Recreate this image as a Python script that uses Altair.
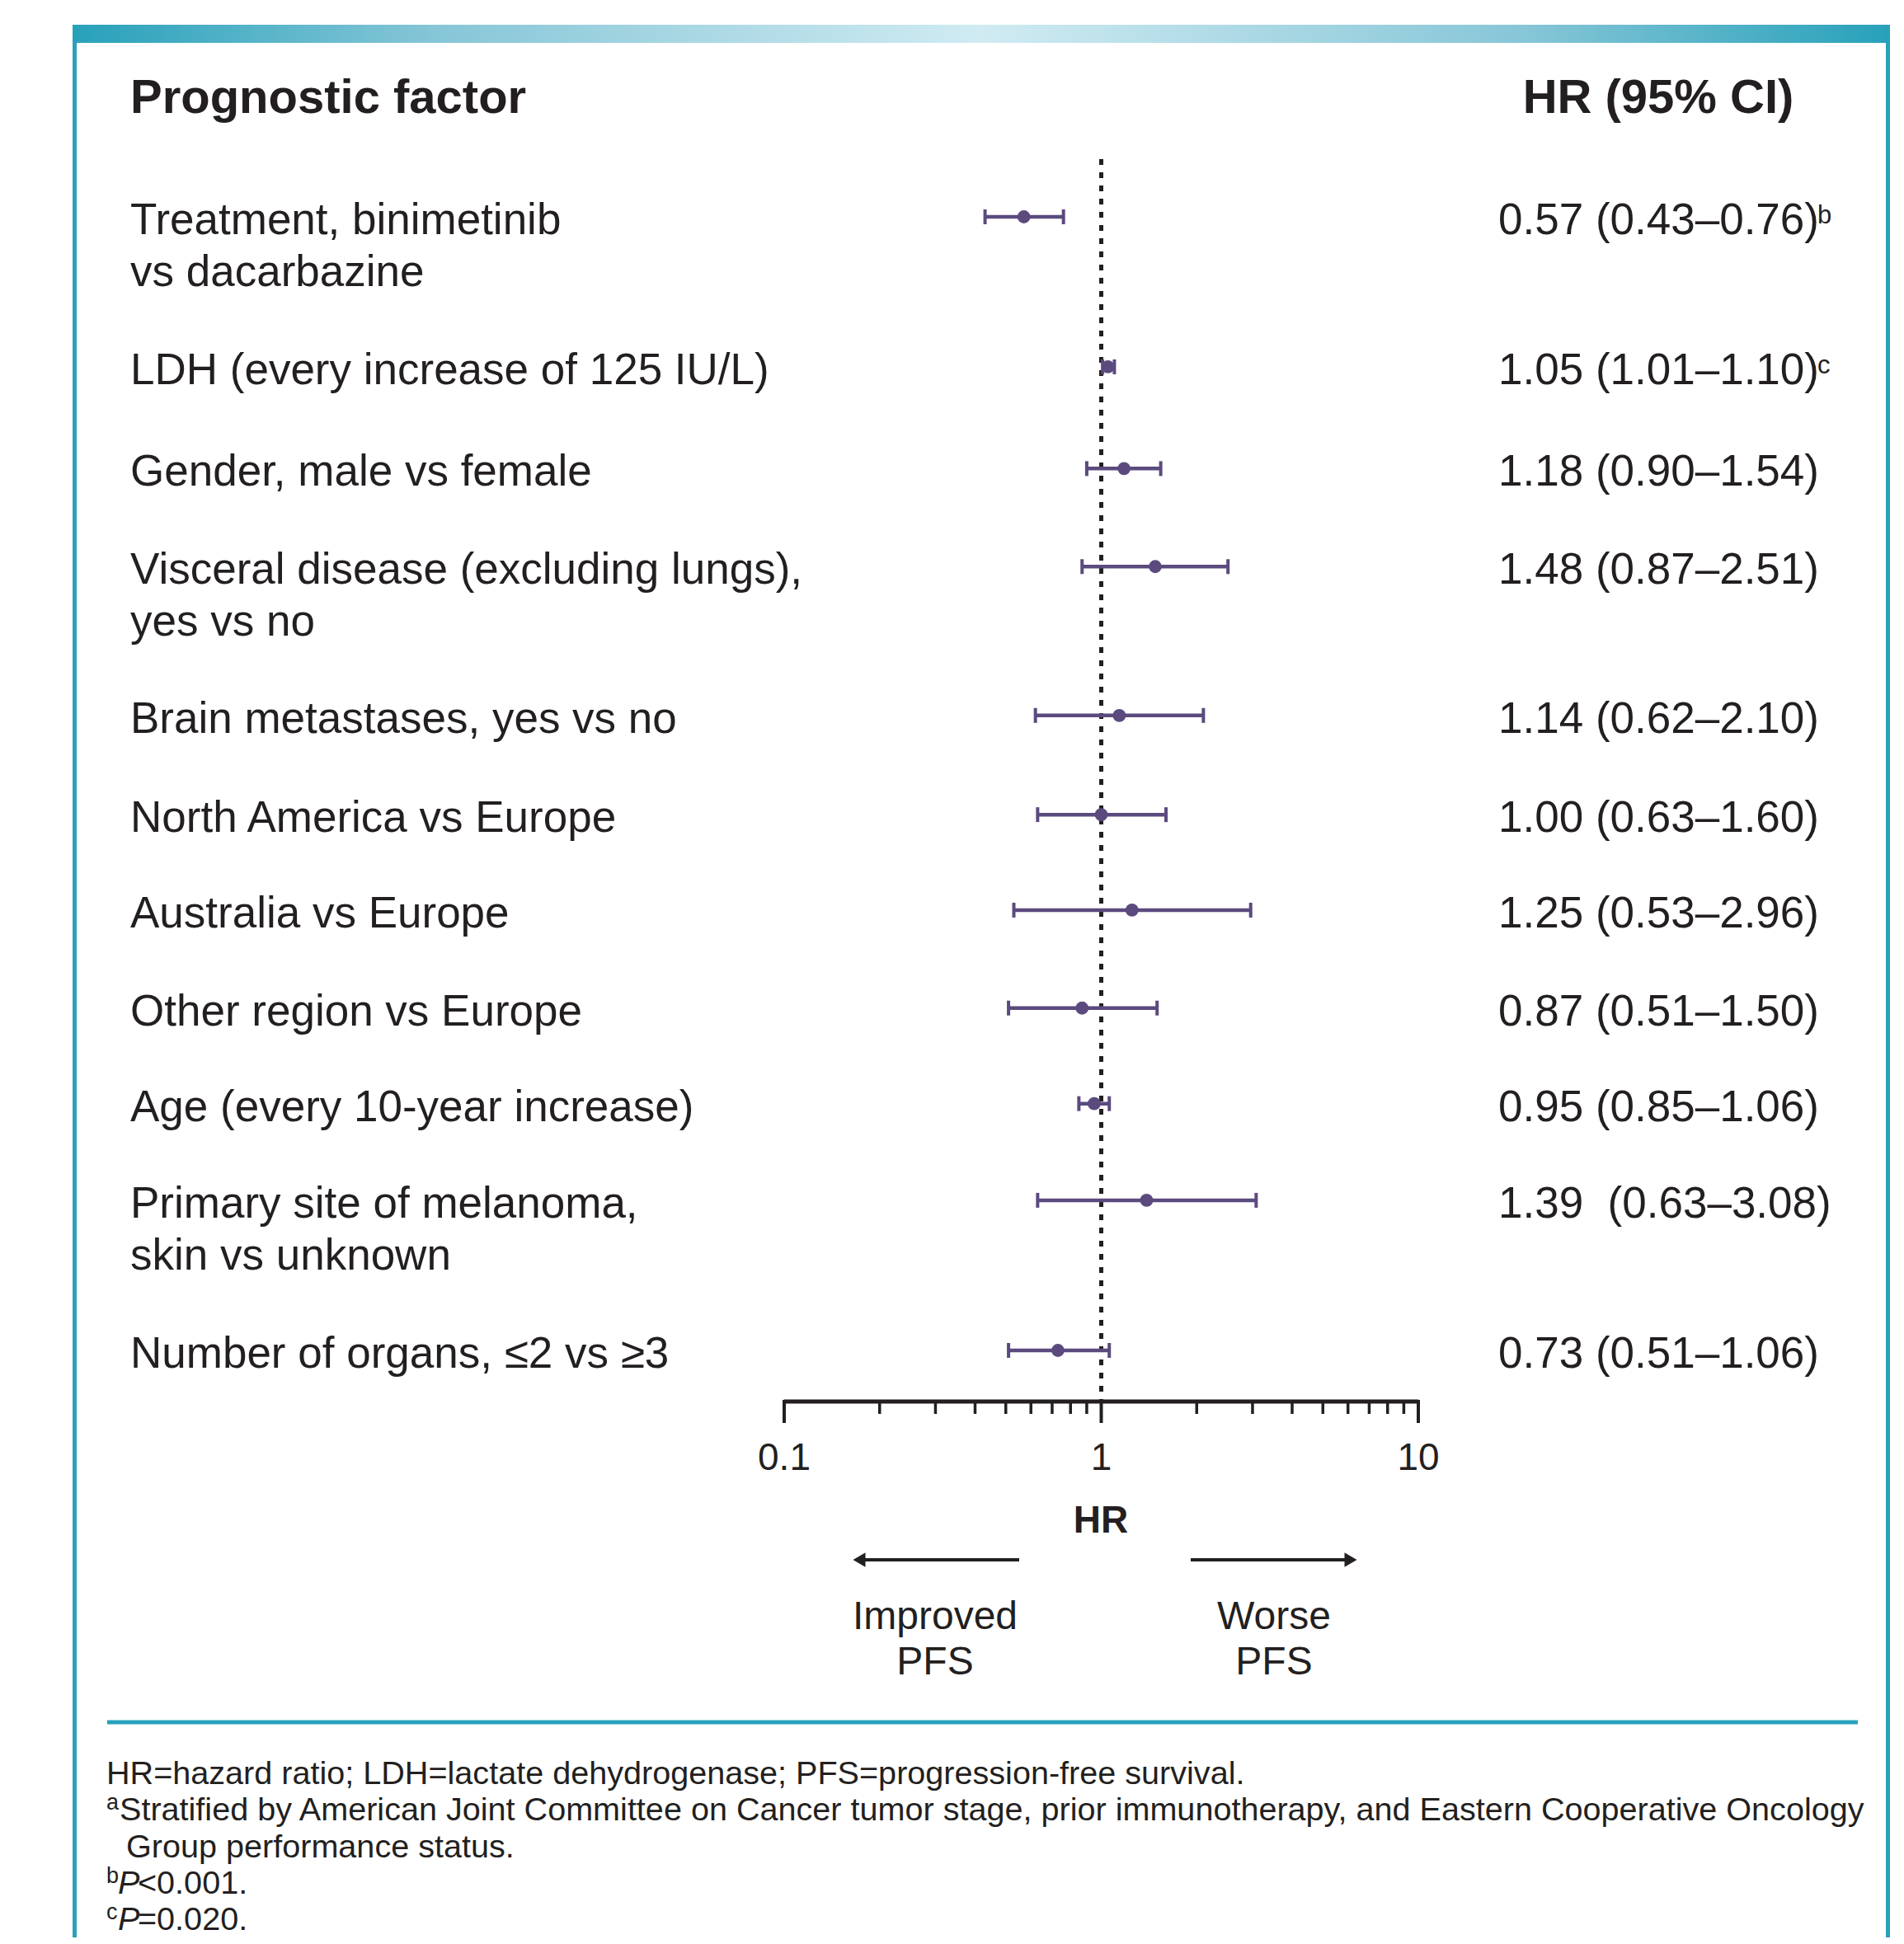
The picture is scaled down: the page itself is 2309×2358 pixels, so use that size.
import altair as alt
import pandas as pd

# ---------------- data ----------------
labels1 = [
    "Treatment, binimetinib",
    "LDH (every increase of 125 IU/L)",
    "Gender, male vs female",
    "Visceral disease (excluding lungs),",
    "Brain metastases, yes vs no",
    "North America vs Europe",
    "Australia vs Europe",
    "Other region vs Europe",
    "Age (every 10-year increase)",
    "Primary site of melanoma,",
    "Number of organs, \u22642 vs \u22653",
]
labels2 = ["vs dacarbazine", "", "", "yes vs no", "", "", "", "", "", "skin vs unknown", ""]
hr = [0.57, 1.05, 1.18, 1.48, 1.14, 1.00, 1.25, 0.87, 0.95, 1.39, 0.73]
lo = [0.43, 1.01, 0.90, 0.87, 0.62, 0.63, 0.53, 0.51, 0.85, 0.63, 0.51]
hi = [0.76, 1.10, 1.54, 2.51, 2.10, 1.60, 2.96, 1.50, 1.06, 3.08, 1.06]
hr_text = [
    "0.57 (0.43\u20130.76)",
    "1.05 (1.01\u20131.10)",
    "1.18 (0.90\u20131.54)",
    "1.48 (0.87\u20132.51)",
    "1.14 (0.62\u20132.10)",
    "1.00 (0.63\u20131.60)",
    "1.25 (0.53\u20132.96)",
    "0.87 (0.51\u20131.50)",
    "0.95 (0.85\u20131.06)",
    "1.39\u00a0 (0.63\u20133.08)",
    "0.73 (0.51\u20131.06)",
]
sup = ["b", "c", "", "", "", "", "", "", "", "", ""]
# vertical slot of each row (in row units; two-line rows take extra room)
row_pos = [0, 1.535, 2.576, 3.579, 5.102, 6.117, 7.094, 8.096, 9.074, 10.063, 11.599]

tick_values = [0.1, 0.2, 0.3, 0.4, 0.5, 0.6, 0.7, 0.8, 0.9, 1, 2, 3, 4, 5, 6, 7, 8, 9, 10]
major_ticks = [0.1, 1, 10]
major_labels = ["0.1", "1", "10"]

header_left = "Prognostic factor"
header_right = "HR (95% CI)"
axis_title = "HR"
left_dir = ["Improved", "PFS"]
right_dir = ["Worse", "PFS"]
foot1 = "HR=hazard ratio; LDH=lactate dehydrogenase; PFS=progression-free survival."
foot_a = "Stratified by American Joint Committee on Cancer tumor stage, prior immunotherapy, and Eastern Cooperative Oncology"
foot_a2 = "Group performance status."
foot_b = "<0.001."
foot_c = "=0.020."

rows = pd.DataFrame(dict(label1=labels1, label2=labels2, hr=hr, lo=lo, hi=hi,
                         hr_text=hr_text, sup=sup, pos=row_pos))
major_df = pd.DataFrame(dict(v=major_ticks, lab=major_labels))
minor_df = pd.DataFrame(dict(v=[v for v in tick_values if v not in major_ticks]))
domain_df = pd.DataFrame(dict(a=[major_ticks[0]], b=[major_ticks[-1]]))

# ---------------- style ----------------
FONT = "Liberation Sans"
INK = "#231f20"
PURPLE = "#5b4a7e"
TEAL = "#27a1ba"

W, H = 2293, 1692
x_scale = alt.Scale(type="log", domain=[0.1, 10], range=[943, 1712], nice=False)
y_scale = alt.Scale(domain=[0, 11.599], range=[255, 1630], nice=False, zero=False)


def one(text=""):
    return alt.Data(values=[{"t": text}])


def txt(text, x, y, size, weight="normal", align="left", baseline="middle", style="normal"):
    return alt.Chart(one(text)).mark_text(
        font=FONT, fontSize=size, fontWeight=weight, fontStyle=style, align=align,
        baseline=baseline, color=INK,
    ).encode(x=alt.value(x), y=alt.value(y), text="t:N")


def X(field):
    return alt.X(field, scale=x_scale, axis=None)


# frame
grad = alt.Gradient(
    gradient="linear", x1=0, x2=1, y1=0, y2=0,
    stops=[
        alt.GradientStop(offset=0, color=TEAL),
        alt.GradientStop(offset=0.2, color="#86c6d7"),
        alt.GradientStop(offset=0.5, color="#d0ebf2"),
        alt.GradientStop(offset=0.8, color="#86c6d7"),
        alt.GradientStop(offset=1, color=TEAL),
    ],
)
top_bar = alt.Chart(one()).mark_rect(color=grad).encode(
    x=alt.value(80), x2=alt.value(2284), y=alt.value(22), y2=alt.value(44))
left_line = alt.Chart(one()).mark_rule(color=TEAL, strokeWidth=5).encode(
    x=alt.value(82.5), y=alt.value(22), y2=alt.value(H + 650))
right_line = alt.Chart(one()).mark_rule(color=TEAL, strokeWidth=5).encode(
    x=alt.value(2281.5), y=alt.value(22), y2=alt.value(H + 650))
sep_line = alt.Chart(one()).mark_rule(color=TEAL, strokeWidth=5).encode(
    x=alt.value(122), x2=alt.value(2245), y=alt.value(2081))

# reference line at HR = 1
ref = alt.Chart(alt.Data(values=[{"x": 1}])).mark_rule(
    color=INK, strokeWidth=5, strokeDash=[7, 9]
).encode(x=X("x:Q"), y=alt.value(185), y2=alt.value(H))

# x axis drawn through the scale
axis_line = alt.Chart(domain_df).mark_rule(color=INK, strokeWidth=5).encode(
    x=X("a:Q"), x2="b:Q", y=alt.value(H))
major_t = alt.Chart(major_df).mark_rule(color=INK, strokeWidth=4).encode(
    x=X("v:Q"), y=alt.value(H - 2), y2=alt.value(H + 26))
minor_t = alt.Chart(minor_df).mark_rule(color=INK, strokeWidth=3.5).encode(
    x=X("v:Q"), y=alt.value(H - 2), y2=alt.value(H + 15))
tick_lab = alt.Chart(major_df).mark_text(
    font=FONT, fontSize=46, align="center", baseline="middle", color=INK
).encode(x=X("v:Q"), y=alt.value(H + 69), text="lab:N")

base = alt.Chart(rows)
Y = alt.Y("pos:Q", scale=y_scale, axis=None)
ci = base.mark_rule(color=PURPLE, strokeWidth=4.5).encode(x=X("lo:Q"), x2="hi:Q", y=Y)
cap_lo = base.mark_tick(orient="vertical", color=PURPLE, thickness=4, size=18, opacity=1).encode(
    x=X("lo:Q"), y=Y)
cap_hi = base.mark_tick(orient="vertical", color=PURPLE, thickness=4, size=18, opacity=1).encode(
    x=X("hi:Q"), y=Y)
pts = base.mark_circle(color=PURPLE, size=250, opacity=1).encode(x=X("hr:Q"), y=Y)

lab1 = base.mark_text(font=FONT, fontSize=53, align="left", baseline="middle", color=INK, dy=5).encode(
    x=alt.value(150), y=Y, text="label1:N")
lab2 = base.mark_text(font=FONT, fontSize=53, align="left", baseline="middle", color=INK, dy=68).encode(
    x=alt.value(150), y=Y, text="label2:N")
hrt = base.mark_text(font=FONT, fontSize=53, align="left", baseline="middle", color=INK, dy=5).encode(
    x=alt.value(1809), y=Y, text="hr_text:N")
supt = base.mark_text(font=FONT, fontSize=31, align="left", baseline="alphabetic", color=INK, dx=387, dy=8).encode(
    x=alt.value(1809), y=Y, text="sup:N")

# arrows
arrow_l = alt.Chart(one()).mark_rule(color=INK, strokeWidth=4).encode(
    x=alt.value(1036), x2=alt.value(1228), y=alt.value(1884))
head_l = alt.Chart(one()).mark_point(shape="triangle-left", filled=True, size=300, color=INK, opacity=1).encode(
    x=alt.value(1034), y=alt.value(1884))
arrow_r = alt.Chart(one()).mark_rule(color=INK, strokeWidth=4).encode(
    x=alt.value(1436), x2=alt.value(1628), y=alt.value(1884))
head_r = alt.Chart(one()).mark_point(shape="triangle-right", filled=True, size=300, color=INK, opacity=1).encode(
    x=alt.value(1630), y=alt.value(1884))

FS = 39.6
layers = [
    top_bar, left_line, right_line, sep_line,
    ref, axis_line, major_t, minor_t, tick_lab,
    ci, cap_lo, cap_hi, pts,
    lab1, lab2, hrt, supt,
    txt(header_left, 150, 112, 58, weight="bold"),
    txt(header_right, 2003, 112, 58, weight="bold", align="center"),
    txt(axis_title, 1327, 1837, 46, weight="bold", align="center"),
    arrow_l, head_l, arrow_r, head_r,
    txt(left_dir[0], 1126, 1954, 48, align="center"),
    txt(left_dir[1], 1126, 2009, 48, align="center"),
    txt(right_dir[0], 1537, 1954, 48, align="center"),
    txt(right_dir[1], 1537, 2009, 48, align="center"),
    txt(foot1, 121, 2156, FS, baseline="alphabetic"),
    txt("a", 121, 2187, 27, baseline="alphabetic"),
    txt(foot_a, 137, 2200, FS, baseline="alphabetic"),
    txt(foot_a2, 145, 2245, FS, baseline="alphabetic"),
    txt("b", 121, 2276, 27, baseline="alphabetic"),
    txt("P", 135, 2289, FS, baseline="alphabetic", style="italic"),
    txt(foot_b, 159, 2289, FS, baseline="alphabetic"),
    txt("c", 121, 2320, 27, baseline="alphabetic"),
    txt("P", 135, 2333, FS, baseline="alphabetic", style="italic"),
    txt(foot_c, 159, 2333, FS, baseline="alphabetic"),
]

chart = alt.layer(*layers).properties(
    width=W, height=H,
    autosize=alt.AutoSizeParams(type="none"),
    padding={"left": 0, "top": 0, "right": 0, "bottom": 650},
    background="white",
).configure_view(strokeWidth=0)

chart.save("out.html", embed_options={"renderer": "svg", "actions": False})
